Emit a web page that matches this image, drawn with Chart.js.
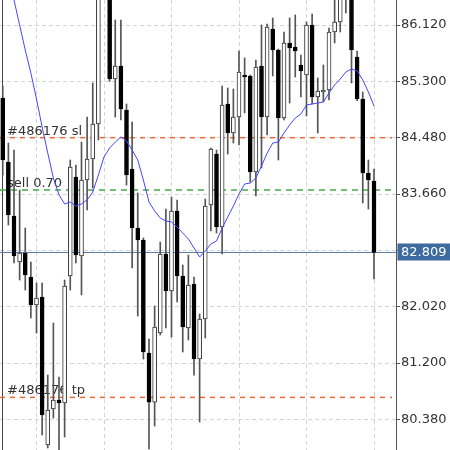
<!DOCTYPE html>
<html>
<head>
<meta charset="utf-8">
<script src="https://cdn.jsdelivr.net/npm/chart.js@4.4.1/dist/chart.umd.min.js"></script>
<style>
  html, body { margin: 0; padding: 0; background: #fff; }
  #wrap { width: 450px; height: 450px; position: relative; }
</style>
</head>
<body>
<div id="wrap"><canvas id="chart"></canvas></div>
<script>
// candles, oldest on the left
const openP = [
  85.058, 84.126, 83.340, 82.670, 82.801, 82.452, 82.044, 82.161, 80.007, 80.531,
  80.662, 80.618, 82.467, 83.908, 82.758, 83.864, 84.170, 84.679, 86.700, 86.900,
  85.334, 85.523, 84.883, 84.024, 83.165, 82.991, 81.346, 80.632, 81.637, 82.787,
  82.248, 83.413, 82.467, 81.710, 82.350, 81.258, 81.841, 83.500, 84.242, 83.180,
  84.970, 84.548, 84.781, 85.392, 85.378, 83.980, 85.523, 84.781, 86.062, 85.756,
  84.766, 85.858, 85.800, 85.538, 85.392, 86.120, 85.072, 85.145, 85.174, 86.018,
  86.164, 86.600, 86.700, 85.654, 85.043, 83.966, 83.849
];
const highP = [
  85.232, 84.402, 84.301, 83.718, 83.165, 82.670, 82.365, 82.365, 81.025, 81.782,
  80.996, 82.408, 84.155, 84.082, 84.417, 84.781, 85.276, 86.850, 87.100, 87.000,
  86.193, 86.193, 84.970, 84.708, 83.675, 83.020, 81.550, 82.030, 82.961, 83.442,
  83.616, 83.573, 82.627, 82.772, 82.452, 81.913, 83.587, 84.330, 84.300, 85.232,
  85.203, 85.189, 85.742, 85.640, 85.392, 85.611, 86.120, 86.135, 86.222, 85.770,
  86.018, 86.222, 86.266, 85.683, 86.164, 86.280, 85.349, 85.538, 86.076, 86.520,
  86.650, 86.800, 86.800, 85.742, 85.145, 84.155, 84.024
];
const lowP = [
  83.937, 83.209, 82.656, 82.408, 82.263, 81.855, 81.637, 80.152, 79.963, 80.400,
  79.905, 80.123, 82.263, 82.656, 82.190, 83.427, 83.747, 84.446, 86.550, 85.300,
  84.781, 84.737, 83.791, 82.583, 81.884, 81.258, 79.948, 80.283, 81.608, 81.710,
  81.579, 82.088, 81.360, 81.535, 81.025, 80.341, 81.564, 83.122, 83.092, 82.787,
  84.242, 84.402, 84.373, 84.839, 83.835, 83.631, 84.039, 84.519, 85.378, 84.155,
  84.740, 84.985, 85.363, 85.072, 84.796, 84.970, 84.548, 84.999, 85.028, 85.858,
  86.018, 86.295, 85.276, 85.020, 83.529, 83.442, 82.423
];
const closeP = [
  84.155, 83.354, 82.758, 82.801, 82.481, 82.044, 82.146, 80.443, 80.516, 80.662,
  80.618, 82.321, 84.053, 82.772, 83.864, 84.170, 84.679, 86.700, 86.950, 85.334,
  85.523, 84.897, 83.937, 83.165, 82.991, 81.360, 80.632, 81.724, 82.787, 82.248,
  83.413, 82.467, 81.724, 82.336, 81.258, 81.841, 83.485, 84.315, 83.180, 84.956,
  84.548, 84.781, 85.436, 85.363, 83.980, 85.509, 84.781, 86.091, 85.756, 84.766,
  85.858, 85.785, 85.742, 85.451, 86.120, 85.072, 85.159, 85.174, 86.018, 86.164,
  86.550, 86.700, 85.756, 85.043, 83.966, 83.864, 82.809
];
// moving average
const maP = [
  87.197, 86.848, 86.484, 86.120, 85.756, 85.421, 85.043, 84.635, 84.257, 83.893,
  83.646, 83.515, 83.544, 83.485, 83.515, 83.573, 83.689, 83.937, 84.199, 84.330,
  84.417, 84.490, 84.432, 84.301, 84.155, 83.864, 83.544, 83.413, 83.311, 83.267,
  83.253, 83.180, 83.092, 83.005, 82.874, 82.743, 82.830, 82.932, 82.976, 83.165,
  83.325, 83.485, 83.660, 83.806, 83.820, 83.893, 84.068, 84.257, 84.402, 84.417,
  84.548, 84.665, 84.766, 84.825, 84.956, 84.970, 84.985, 84.999, 85.130, 85.247,
  85.334, 85.436, 85.480, 85.451, 85.320, 85.145, 84.941
];
const yTicks = [80.38, 81.2, 82.02, 82.84, 83.66, 84.48, 85.3, 86.12];
const gridBars = [6, 18, 30, 42, 54, 66];

const slLevel = 84.48;
const sellLevel = 83.718;
const tpLevel = 80.70;
const bid = closeP[closeP.length - 1];

const X_MIN = -0.489, X_MAX = 69.911, LINE_END = 69.2;
const Y_MIN = 79.934, Y_MAX = 86.484;

const isBull = openP.map((o, i) => closeP[i] > o);

function hLine(value, end, color, dash, width) {
    return {
        type: "line",
        data: [{ x: X_MIN, y: value }, { x: end, y: value }],
        borderColor: color,
        backgroundColor: color,
        borderWidth: width,
        borderDash: dash,
        pointRadius: 0,
        order: 5,
    };
}

const levelTags = [
    { text: "#486176 sl", value: slLevel },
    { text: "sell 0.70", value: sellLevel },
    { text: "#486176 tp", value: tpLevel },
];

const overlay = {
    id: "overlay",
    beforeDatasetsDraw(chart) {
        const { ctx } = chart;
        const y = chart.scales.y;
        ctx.save();
        // left window edge
        ctx.strokeStyle = "#444";
        ctx.lineWidth = 1;
        ctx.beginPath();
        ctx.moveTo(2.5, 0);
        ctx.lineTo(2.5, chart.height);
        ctx.stroke();
        ctx.fillStyle = "#333";
        ctx.font = '13px "DejaVu Sans"';
        ctx.textBaseline = "alphabetic";
        levelTags.forEach((t) => ctx.fillText(t.text, 7, y.getPixelForValue(t.value) - 3));
        ctx.restore();
    },
    afterDraw(chart) {
        const { ctx } = chart;
        const py = chart.scales.y.getPixelForValue(bid);
        ctx.save();
        ctx.fillStyle = "#3d6b9f";
        ctx.fillRect(397.5, Math.round(py) - 8.5, 53, 17);
        ctx.fillStyle = "#fff";
        ctx.font = '13px "DejaVu Sans"';
        ctx.textBaseline = "middle";
        ctx.fillText(bid.toFixed(3), 401, py + 0.5);
        ctx.restore();
    },
};

Chart.defaults.font.family = '"DejaVu Sans"';
Chart.defaults.font.size = 13;

new Chart(document.getElementById("chart").getContext("2d"), {
    type: "bar",
    data: {
        datasets: [
            // wicks
            {
                data: highP.map((h, i) => ({ x: i, y: [lowP[i], h] })),
                backgroundColor: "#555",
                barThickness: 1,
                grouped: false,
                order: 2,
            },
            // bodies
            {
                data: openP.map((o, i) => ({ x: i, y: [o, closeP[i]] })),
                backgroundColor: isBull.map((b) => (b ? "#fff" : "#000")),
                borderColor: isBull.map((b) => (b ? "#333" : "#000")),
                borderWidth: 1,
                borderSkipped: false,
                barThickness: 4,
                minBarLength: 1,
                grouped: false,
                order: 1,
            },
            {
                type: "line",
                data: maP.map((v, i) => ({ x: i, y: v })),
                borderColor: "#4646ff",
                borderWidth: 1,
                pointRadius: 0,
                order: 0,
            },
            hLine(slLevel, LINE_END, "#ec6a36", [5, 5], 1.5),
            hLine(tpLevel, LINE_END, "#ec6a36", [5, 5], 1.5),
            hLine(sellLevel, LINE_END, "#45ab45", [6, 5], 1.5),
            hLine(bid, X_MAX, "#5a7aa3", [], 1),
        ],
    },
    options: {
        responsive: true,
        maintainAspectRatio: false,
        animation: false,
        layout: { padding: 0 },
        plugins: {
            legend: { display: false },
            tooltip: { enabled: false },
        },
        scales: {
            x: {
                type: "linear",
                offset: false,
                min: X_MIN,
                max: X_MAX,
                ticks: { display: false },
                grid: { color: "#d4d4d4", drawTicks: false, offset: false },
                border: { display: false, dash: [4, 3] },
                afterBuildTicks: (s) => { s.ticks = gridBars.map((v) => ({ value: v })); },
                afterFit: (s) => {
                    s.height = 0;
                    s.paddingLeft = 0;
                    s.paddingRight = 0;
                },
            },
            y: {
                position: "right",
                min: Y_MIN,
                max: Y_MAX,
                afterBuildTicks: (s) => { s.ticks = yTicks.map((v) => ({ value: v })); },
                afterFit: (s) => {
                    s.width = 54;
                    s.paddingTop = 0;
                    s.paddingBottom = 0;
                },
                ticks: {
                    callback: (v) => Number(v).toFixed(3),
                    color: "#333",
                    padding: 1,
                },
                grid: {
                    color: "#d4d4d4",
                    tickLength: 4,
                    tickColor: "#555",
                    tickBorderDash: [],
                },
                border: { color: "#555", dash: [4, 3] },
            },
        },
    },
    plugins: [overlay],
});
</script>
</body>
</html>
